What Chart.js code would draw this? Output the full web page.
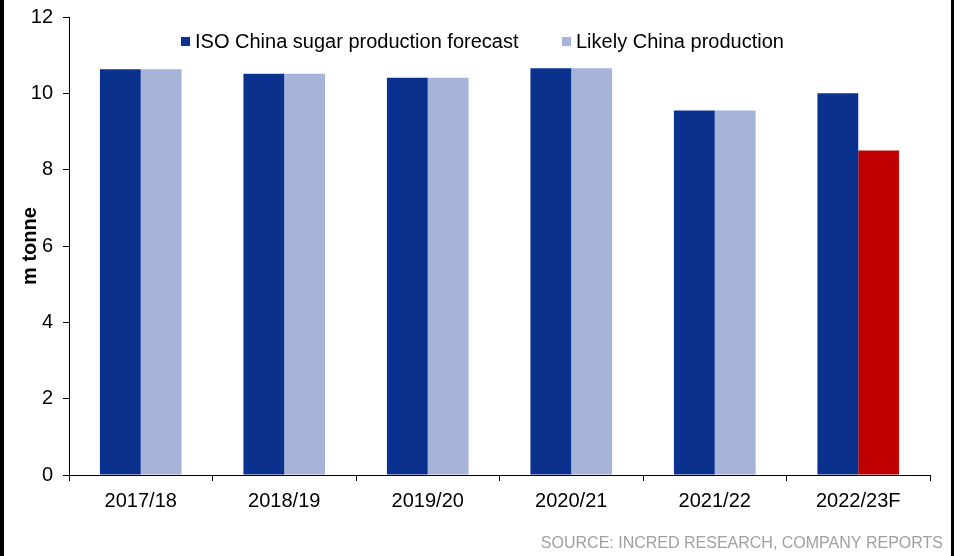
<!DOCTYPE html>
<html>
<head>
<meta charset="utf-8">
<script src="https://cdn.jsdelivr.net/npm/chart.js@4/dist/chart.umd.min.js"></script>
<style>
  html, body { margin: 0; padding: 0; background: #fff; }
  #wrap { position: relative; width: 954px; height: 556px; overflow: hidden; }
  #edgeL { position: absolute; left: 0; top: 0; width: 4px; height: 556px; background: #000; }
  #edgeR { position: absolute; right: 0; top: 0; width: 3px; height: 556px; background: #000; }
  canvas { position: absolute; left: 0; top: 0; }
</style>
</head>
<body>
<div id="wrap">
  <canvas id="chart" width="954" height="556"></canvas>
  <div id="edgeL"></div>
  <div id="edgeR"></div>
</div>
<script>
// Sugar seasons shown on the x axis
const seasons = ['2017/18', '2018/19', '2019/20', '2020/21', '2021/22', '2022/23F'];
// ISO forecast of China sugar output, million tonnes
const isoForecast = [10.63, 10.51, 10.41, 10.66, 9.55, 10.0];
// Likely China output, million tonnes
const likelyProduction = [10.63, 10.51, 10.41, 10.66, 9.55, 8.5];
// Y axis ticks
const yTicks = [0, 2, 4, 6, 8, 10, 12];

const seriesNames = ['ISO China sugar production forecast', 'Likely China production'];
const sourceNote = 'SOURCE: INCRED RESEARCH, COMPANY REPORTS';
const yTitle = 'm tonne';

const NAVY = '#0b318f';
const LAVENDER = '#a7b4d9';
const RED = '#c00000';
const FONT = '"Liberation Sans", Arial, Helvetica, sans-serif';

// Forecast season's "likely" bar is highlighted in red
const isForecast = (i) => /F$/.test(seasons[i]);

// Legend drawn inside the top of the plot, plus the source line at the bottom
const overlay = {
  id: 'overlay',
  afterDraw(chart) {
    const { ctx, width } = chart;
    ctx.save();
    ctx.font = '20px ' + FONT;
    ctx.textBaseline = 'middle';
    ctx.textAlign = 'left';
    const entries = [
      { x: 181, color: NAVY, text: chart.data.datasets[0].label },
      { x: 562, color: LAVENDER, text: chart.data.datasets[1].label }
    ];
    entries.forEach(e => {
      ctx.fillStyle = e.color;
      ctx.fillRect(e.x, 37, 9, 9);
      ctx.fillStyle = '#000';
      ctx.fillText(e.text, e.x + 14, 42);
    });
    ctx.font = '16px ' + FONT;
    ctx.fillStyle = '#a0a0a0';
    ctx.textAlign = 'right';
    ctx.textBaseline = 'alphabetic';
    ctx.fillText(sourceNote, width - 11, 548);
    ctx.restore();
  }
};

new Chart(document.getElementById('chart'), {
  type: 'bar',
  data: {
    labels: seasons,
    datasets: [
      {
        label: seriesNames[0],
        data: isoForecast,
        backgroundColor: NAVY,
        borderWidth: 0,
        categoryPercentage: 0.569,
        barPercentage: 1.0
      },
      {
        label: seriesNames[1],
        data: likelyProduction,
        backgroundColor: (c) => isForecast(c.dataIndex) ? RED : LAVENDER,
        borderWidth: 0,
        categoryPercentage: 0.569,
        barPercentage: 1.0
      }
    ]
  },
  options: {
    responsive: false,
    animation: false,
    devicePixelRatio: 1,
    layout: { padding: { left: 4, right: 24, top: 17, bottom: 41 } },
    plugins: {
      legend: { display: false },
      tooltip: { enabled: false }
    },
    scales: {
      x: {
        grid: {
          display: true,
          drawOnChartArea: false,
          drawTicks: true,
          tickLength: 6,
          color: '#000',
          offset: true
        },
        border: { display: true, color: '#000', width: 1 },
        ticks: {
          color: '#000',
          font: { family: FONT, size: 20 },
          padding: 8,
          maxRotation: 0
        },
        afterFit: (s) => { s.height = 40; s.paddingLeft = 0; s.paddingRight = 0; }
      },
      y: {
        min: 0,
        max: 12,
        afterBuildTicks: (s) => { s.ticks = yTicks.map(v => ({ value: v })); },
        grid: {
          display: true,
          drawOnChartArea: false,
          drawTicks: true,
          tickLength: 6,
          color: '#000'
        },
        border: { display: true, color: '#000', width: 1 },
        ticks: {
          color: '#000',
          font: { family: FONT, size: 20 },
          padding: 10
        },
        title: {
          display: true,
          text: yTitle,
          color: '#000',
          font: { family: FONT, size: 20, weight: 'bold' },
          padding: { top: 14, bottom: 0 }
        },
        afterFit: (s) => { s.width = 65; s.paddingTop = 0; s.paddingBottom = 0; }
      }
    }
  },
  plugins: [overlay]
});
</script>
</body>
</html>
